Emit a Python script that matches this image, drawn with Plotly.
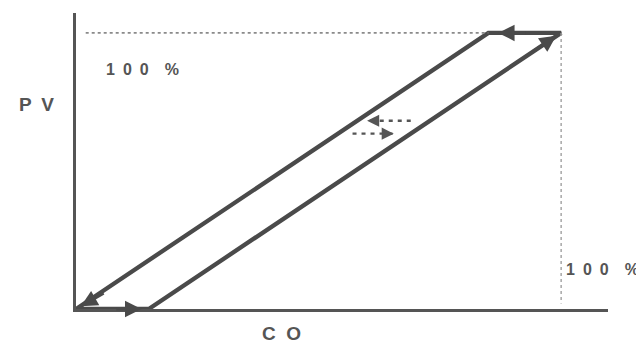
import plotly.graph_objects as go

# Hysteresis loop (CO %, PV %)
loop_co = [0, 15, 100, 85, 0]
loop_pv = [0, 0, 100, 100, 0]

# Reference dotted lines at 100 %
ref_h_co = [2, 85]
ref_h_pv = [100, 100]
ref_v_co = [100, 100]
ref_v_pv = [100, 2]

# Direction arrows on the loop: (tip_co, tip_pv, tail_co, tail_pv)
arrow_tip_co = [13.5, 99.0, 87.0, 1.0]
arrow_tip_pv = [0.0, 99.0, 100.0, 1.0]
arrow_tail_co = [8.0, 94.0, 93.0, 6.0]
arrow_tail_pv = [0.0, 93.0, 100.0, 6.0]

# Dashed reversal arrows
dash1_co = [69.0, 60.0]
dash1_pv = [68.2, 68.2]
dash2_co = [57.0, 65.5]
dash2_pv = [63.5, 63.5]

# Axis titles / labels
x_title = "CO"
y_title = "PV"
pct_label = "100 %"

line_col = "#4a4a4a"
text_col = "#555555"

fig = go.Figure()
fig.add_trace(go.Scatter(x=loop_co, y=loop_pv, mode="lines",
                         line=dict(color=line_col, width=4.3), hoverinfo="skip"))
fig.add_trace(go.Scatter(x=ref_h_co, y=ref_h_pv, mode="lines",
                         line=dict(color="#8a8a8a", width=1.8, dash="dot"), hoverinfo="skip"))
fig.add_trace(go.Scatter(x=ref_v_co, y=ref_v_pv, mode="lines",
                         line=dict(color="#a0a0a0", width=1.4, dash="dot"), hoverinfo="skip"))
for xs, ys in [(dash1_co, dash1_pv), (dash2_co, dash2_pv)]:
    fig.add_trace(go.Scatter(x=xs, y=ys, mode="lines",
                             line=dict(color="#555555", width=2.4, dash="4px,5px"), hoverinfo="skip"))

ann = []
for tx, ty, ax, ay in zip(arrow_tip_co, arrow_tip_pv, arrow_tail_co, arrow_tail_pv):
    ann.append(dict(x=tx, y=ty, ax=ax, ay=ay, xref="x", yref="y", axref="x", ayref="y",
                    text="", showarrow=True, arrowhead=2, arrowsize=1.1, arrowwidth=3,
                    arrowcolor=line_col))
for xs, ys in [(dash1_co, dash1_pv), (dash2_co, dash2_pv)]:
    ann.append(dict(x=xs[1], y=ys[1], ax=xs[1] - (xs[1] - xs[0]) * 0.15, ay=ys[1],
                    xref="x", yref="y", axref="x", ayref="y",
                    text="", showarrow=True, arrowhead=2, arrowsize=1.1, arrowwidth=2.2,
                    arrowcolor="#555555"))

en = "\u2002"


def spaced(s, gap):
    out = ""
    for ch in s:
        if ch == " ":
            out += gap
        else:
            out += ch + gap
    return out.rstrip(gap)


pct_txt = "<b>" + spaced(pct_label, en) + "</b>"
lab_font = dict(family="Liberation Sans, Arial", size=16, color=text_col)
title_font = dict(family="Liberation Sans, Arial", size=19, color=text_col)

ann += [
    dict(x=0.1255, y=0.808, xref="paper", yref="paper", text=pct_txt, showarrow=False,
         xanchor="center", yanchor="middle", font=lab_font),
    dict(x=0.998, y=0.135, xref="paper", yref="paper", text=pct_txt, showarrow=False,
         xanchor="left", yanchor="middle", xshift=-43, font=lab_font),
    dict(x=-0.0749, y=0.690, xref="paper", yref="paper", text="<b>" + spaced(y_title, en) + "</b>",
         showarrow=False, xanchor="center", yanchor="middle", font=title_font),
    dict(x=0.386, y=-0.084, xref="paper", yref="paper",
         text="<b>" + spaced(x_title, "\u00a0\u00a0") + "</b>",
         showarrow=False, xanchor="center", yanchor="middle", font=title_font),
]

fig.update_layout(
    width=636, height=338,
    margin=dict(l=68, r=36, t=5, b=37),
    paper_bgcolor="white", plot_bgcolor="white",
    showlegend=False,
    annotations=ann,
    xaxis=dict(range=[0, 109.66], showgrid=False, zeroline=False, showticklabels=False,
               ticks="", showline=True, linecolor="#555555", linewidth=2.5),
    yaxis=dict(range=[0, 107.2], showgrid=False, zeroline=False, showticklabels=False,
               ticks="", showline=True, linecolor="#555555", linewidth=2.5),
)

fig.write_html("out.html")
